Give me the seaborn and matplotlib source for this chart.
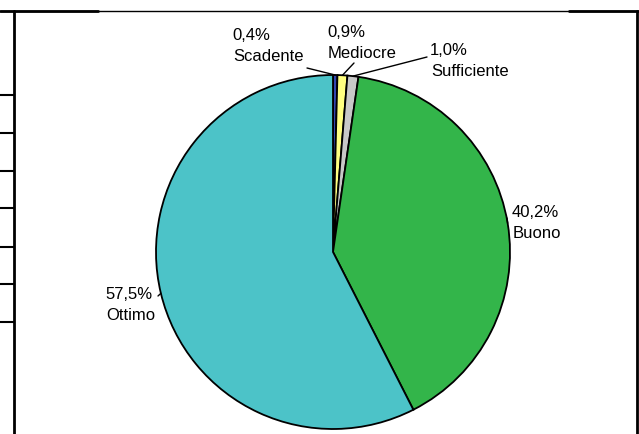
import numpy as np
import matplotlib
matplotlib.use("Agg")
import matplotlib.pyplot as plt
import seaborn as sns

# ---- data ----
categories = ["Scadente", "Mediocre", "Sufficiente", "Buono", "Ottimo"]
values = [0.4, 0.9, 1.0, 40.2, 57.5]
value_labels = ["0,4%", "0,9%", "1,0%", "40,2%", "57,5%"]
colors = ["#3346b0", "#ffff80", "#c8c8c8", "#33b54a", "#4cc3c8"]

sns.set_theme(style="white")
plt.rcParams["font.family"] = ["Liberation Sans", "DejaVu Sans"]

W, H = 639, 434
fig = plt.figure(figsize=(W / 100, H / 100), dpi=100)
ax = fig.add_axes([0, 0, 1, 1])
ax.set_xlim(0, W)
ax.set_ylim(0, H)
ax.axis("off")

def Y(py):
    return H - py

cx, cy, R = 333, 252, 177
wedges, _ = ax.pie(values, colors=colors, startangle=90, counterclock=False,
                   center=(cx, Y(cy)), radius=R, frame=True,
                   wedgeprops=dict(edgecolor="black", linewidth=1.3))
ax.set_xlim(0, W)
ax.set_ylim(0, H)
ax.axis("off")

# label layout: (x_left, baseline of first line px, leader end px)
layout = {
    "Scadente": (232, 40, (307, 68)),
    "Mediocre": (327, 37, (354, 63)),
    "Sufficiente": (430, 55, (427, 57)),
    "Buono": (512, 217, (507, 218)),
    "Ottimo": (105, 299, (158, 296)),
}

cum = np.cumsum([0] + values)
total = sum(values)
for i, name in enumerate(categories):
    mid = (cum[i] + values[i] / 2) / total * 360.0
    ang = np.deg2rad(90 - mid)
    axp = cx + R * np.cos(ang)
    ayp = Y(cy) + R * np.sin(ang)
    xl, bl, (lx, ly) = layout[name]
    ax.plot([axp, lx], [ayp, Y(ly)], color="black", lw=1.0)
    ax.text(xl, Y(bl), value_labels[i], ha="left", va="baseline", fontsize=12, color="black")
    ax.text(xl + 1, Y(bl + 21), name, ha="left", va="baseline", fontsize=12, color="black")

# frame / table remnants
ax.plot([0, W], [Y(11), Y(11)], color="black", lw=1.0)
ax.plot([0, 98], [Y(11), Y(11)], color="black", lw=2.0)
ax.plot([569, W], [Y(11), Y(11)], color="black", lw=2.0)
ax.plot([14, 14], [Y(11), 0], color="black", lw=2.0)
ax.plot([637, 637], [Y(11), 0], color="black", lw=2.0)
for ty in [95, 133, 171, 208, 247, 284, 322]:
    ax.plot([0, 14], [Y(ty), Y(ty)], color="black", lw=1.5)

fig.savefig("out.png", dpi=100)
